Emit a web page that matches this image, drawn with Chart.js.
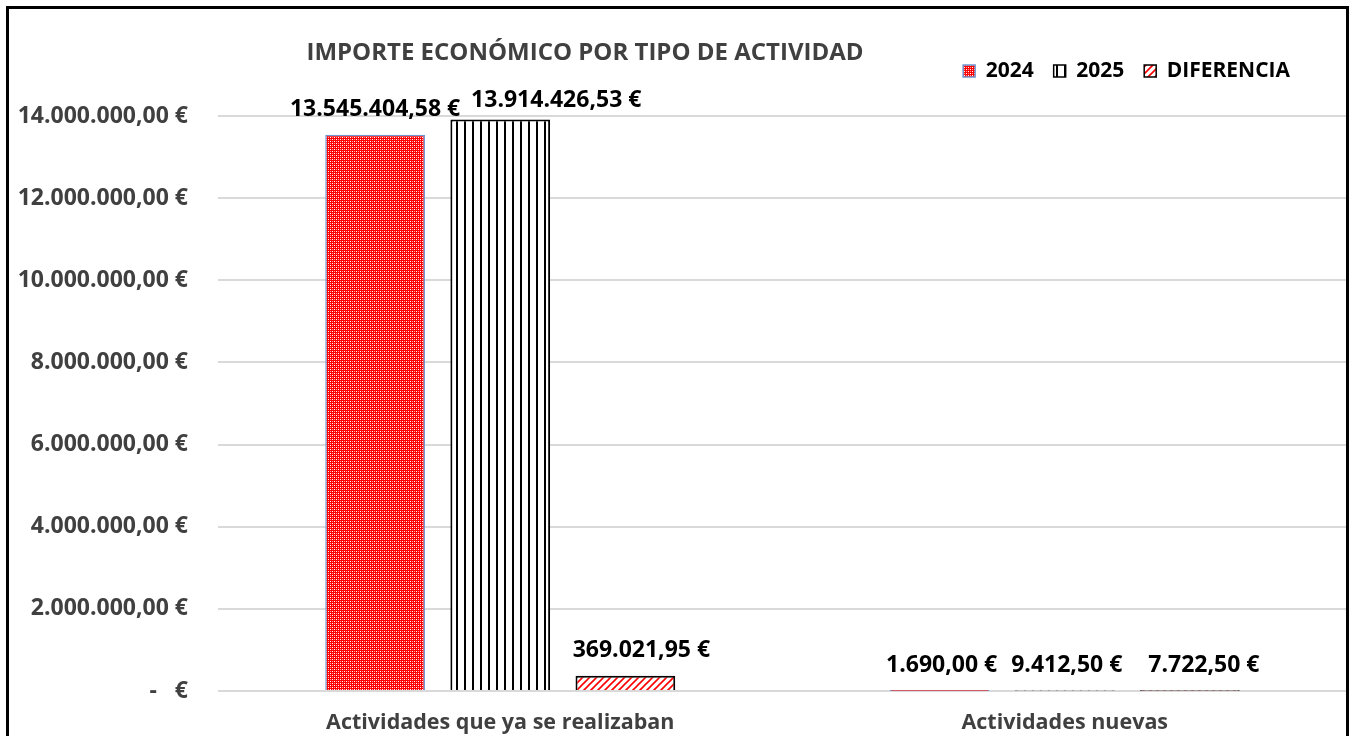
<!DOCTYPE html>
<html>
<head>
<meta charset="utf-8">
<script src="https://cdn.jsdelivr.net/npm/chart.js@4.4.1/dist/chart.umd.min.js"></script>
<style>
html,body{margin:0;padding:0;background:#fff;}
#wrap{position:relative;width:1354px;height:736px;}
</style>
</head>
<body>
<div id="wrap"><canvas id="c" width="1354" height="736"></canvas></div>
<script>
// ---- data ----
const categories = ['Actividades que ya se realizaban', 'Actividades nuevas'];
const seriesNames = ['2024', '2025', 'DIFERENCIA'];
const values2024 = [13545404.58, 1690.00];
const values2025 = [13914426.53, 9412.50];
const valuesDif = [369021.95, 7722.50];
const yTicks = [0, 2000000, 4000000, 6000000, 8000000, 10000000, 12000000, 14000000];
const chartTitle = 'IMPORTE ECONÓMICO POR TIPO DE ACTIVIDAD';

const FONT = "'Open Sans', 'Liberation Sans', sans-serif";

function fmtEuro(v) {
  if (v === 0) return '-   €';
  const parts = v.toFixed(2).split('.');
  const i = parts[0].replace(/\B(?=(\d{3})+(?!\d))/g, '.');
  return i + ',' + parts[1] + ' €';
}

function makePattern(w, h, draw) {
  const c = document.createElement('canvas');
  c.width = w; c.height = h;
  const x = c.getContext('2d');
  draw(x);
  return x.createPattern(c, 'repeat');
}
const pat2024 = makePattern(4, 4, x => {
  x.fillStyle = '#ff0000'; x.fillRect(0, 0, 4, 4);
  x.fillStyle = '#ffffff'; x.fillRect(2, 1, 1, 1); x.fillRect(0, 3, 1, 1);
  x.fillStyle = '#ff9a9a'; x.fillRect(2, 3, 1, 1); x.fillRect(0, 1, 1, 1);
});
const pat2025 = makePattern(8, 8, x => {
  x.fillStyle = '#ffffff'; x.fillRect(0, 0, 8, 8);
  x.fillStyle = '#000000'; x.fillRect(0, 0, 2, 8);
});
const patDif = makePattern(7, 7, x => {
  x.fillStyle = '#ffffff'; x.fillRect(0, 0, 7, 7);
  x.strokeStyle = '#ff0000'; x.lineWidth = 1.6;
  x.beginPath();
  x.moveTo(0, 7); x.lineTo(7, 0);
  x.moveTo(-1, 1); x.lineTo(1, -1);
  x.moveTo(6, 8); x.lineTo(8, 6);
  x.stroke();
});

const fills = [pat2024, pat2025, patDif];
const borders = ['#6f96d0', '#000000', '#000000'];
const borderWidths = [1.5, 2, 2];
// label nudges (px) per dataset/category, as Excel placed them
const labelNudge = [[[0, 0], [2, 0]], [[56, 6], [2, 0]], [[16, 0], [14, 0]]];

const LEG_PAD = 20;
const LEG_FONT = 21;

const decorPlugin = {
  id: 'decor',
  afterLayout(chart) {
    const lg = chart.legend;
    if (lg) {
      const w = lg.right - lg.left;
      lg.right = 1290 + LEG_PAD;
      lg.left = lg.right - w;
      const h = lg.bottom - lg.top;
      lg.top = 71 - LEG_PAD - LEG_FONT / 2;
      lg.bottom = lg.top + h;
    }
  },
  afterDraw(chart) {
    const ctx = chart.ctx;
    ctx.save();
    // title
    ctx.font = 'bold 24px ' + FONT;
    ctx.fillStyle = '#404040';
    ctx.textAlign = 'center';
    ctx.textBaseline = 'middle';
    ctx.fillText(chartTitle, 585, 53);
    // data labels
    ctx.font = 'bold 23px ' + FONT;
    ctx.fillStyle = '#000000';
    chart.data.datasets.forEach((ds, di) => {
      const meta = chart.getDatasetMeta(di);
      meta.data.forEach((bar, i) => {
        const n = labelNudge[di][i];
        ctx.fillText(fmtEuro(ds.data[i]), bar.x + n[0], bar.y - 25 + n[1]);
      });
    });
    // outer frame
    ctx.strokeStyle = '#000000';
    ctx.lineWidth = 3;
    ctx.strokeRect(7.5, 7.5, 1340, 760);
    ctx.restore();
  }
};

new Chart(document.getElementById('c'), {
  type: 'bar',
  data: {
    labels: categories,
    datasets: [values2024, values2025, valuesDif].map((d, i) => ({
      label: seriesNames[i],
      data: d,
      backgroundColor: fills[i],
      borderColor: borders[i],
      borderWidth: borderWidths[i],
      borderSkipped: 'start',
      categoryPercentage: 0.665,
      barPercentage: 0.797
    }))
  },
  options: {
    responsive: false,
    animation: false,
    devicePixelRatio: 1,
    layout: { padding: { top: 126 - (2 * LEG_PAD + LEG_FONT), right: 7, bottom: 2, left: 0 } },
    plugins: {
      title: { display: false },
      tooltip: { enabled: false },
      legend: {
        display: true,
        position: 'top',
        align: 'end',
        labels: {
          boxWidth: 12,
          boxHeight: 12,
          padding: LEG_PAD,
          color: '#404040',
          font: { family: FONT, size: LEG_FONT, weight: 'bold' },
          generateLabels(chart) {
            return chart.data.datasets.map((ds, i) => ({
              text: ds.label,
              fillStyle: fills[i],
              strokeStyle: borders[i],
              lineWidth: 1.5,
              datasetIndex: i,
              hidden: false
            }));
          }
        }
      }
    },
    scales: {
      x: {
        afterFit(s) { s.height = 43; },
        grid: { display: false, drawTicks: false },
        border: { display: false },
        ticks: { color: '#404040', padding: 19, font: { family: FONT, size: 21.5, weight: 'bold' } }
      },
      y: {
        min: 0,
        max: 14000000,
        afterFit(s) { s.width = 218; },
        afterBuildTicks(s) { s.ticks = yTicks.map(v => ({ value: v })); },
        grid: { color: '#d9d9d9', lineWidth: 2, drawTicks: false },
        border: { display: false },
        ticks: {
          color: '#404040',
          padding: 30,
          font: { family: FONT, size: 23, weight: 'bold' },
          callback: v => fmtEuro(v)
        }
      }
    }
  },
  plugins: [decorPlugin]
});
</script>
</body>
</html>
